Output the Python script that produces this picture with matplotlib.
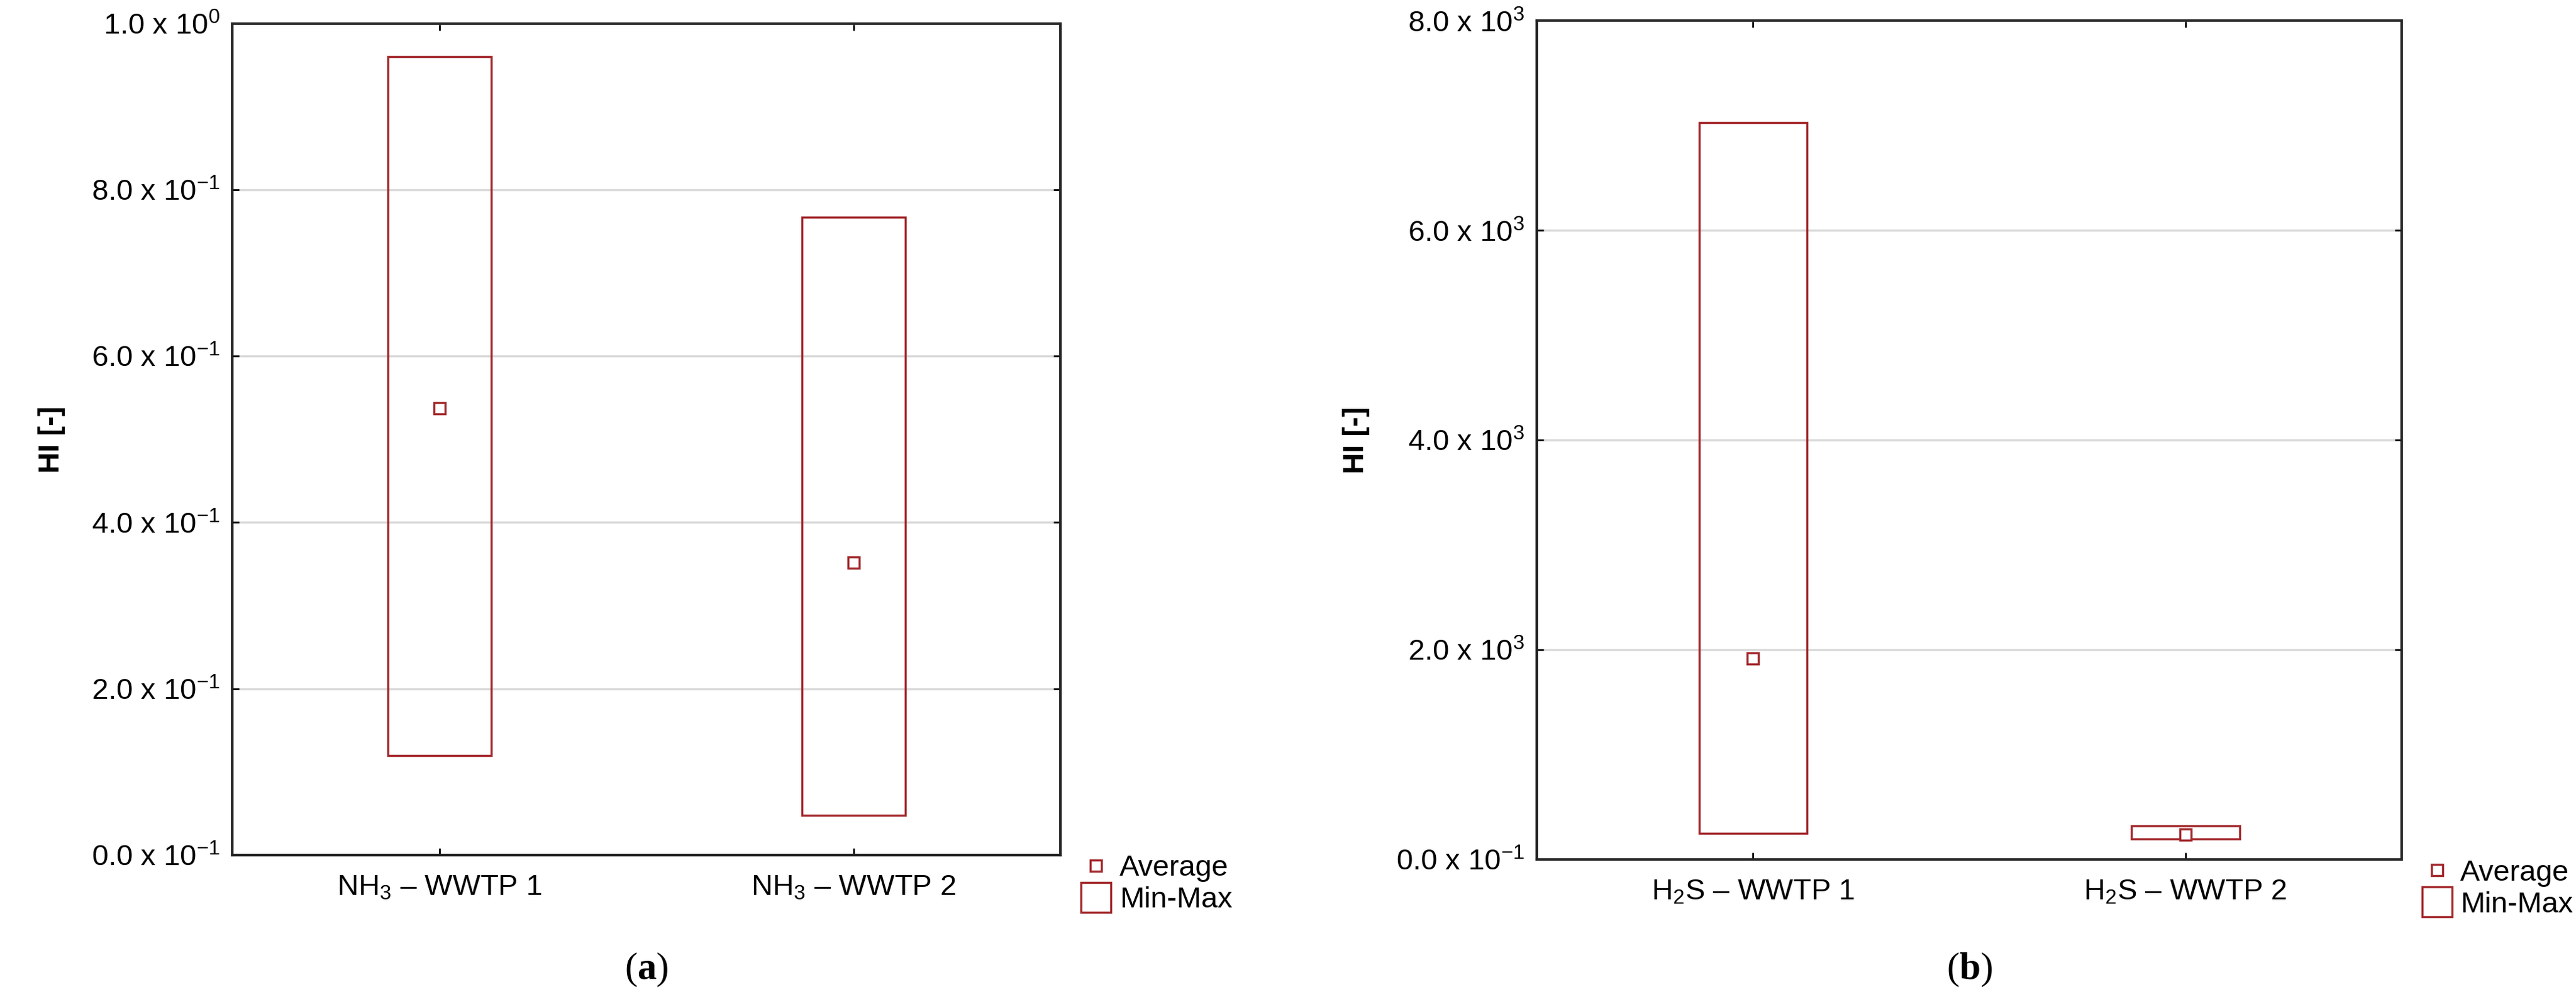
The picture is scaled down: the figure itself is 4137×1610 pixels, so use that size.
import matplotlib.pyplot as plt
from matplotlib.patches import Rectangle
from matplotlib.lines import Line2D

plt.rcParams['font.family'] = ['Liberation Sans', 'DejaVu Sans']
plt.rcParams['mathtext.fontset'] = 'custom'
plt.rcParams['mathtext.rm'] = 'Liberation Sans'
plt.rcParams['mathtext.it'] = 'Liberation Sans:italic'
plt.rcParams['mathtext.bf'] = 'Liberation Serif:bold'

# panel (a): NH3
cats_a = ["NH$_3$ \u2013 WWTP 1", "NH$_3$ \u2013 WWTP 2"]
min_a = [0.12, 0.048]
max_a = [0.96, 0.767]
avg_a = [0.537, 0.352]
yticks_a = [0.0, 0.2, 0.4, 0.6, 0.8, 1.0]
ylabels_a = [r"0.0 x 10$^{-1}$", r"2.0 x 10$^{-1}$", r"4.0 x 10$^{-1}$",
             r"6.0 x 10$^{-1}$", r"8.0 x 10$^{-1}$", r"1.0 x 10$^{0}$"]

# panel (b): H2S
cats_b = ["H$_2$S \u2013 WWTP 1", "H$_2$S \u2013 WWTP 2"]
min_b = [250, 195]
max_b = [7030, 320]
avg_b = [1920, 240]
yticks_b = [0, 2000, 4000, 6000, 8000]
ylabels_b = [r"0.0 x 10$^{-1}$", r"2.0 x 10$^{3}$", r"4.0 x 10$^{3}$",
             r"6.0 x 10$^{3}$", r"8.0 x 10$^{3}$"]

RED = "#a3282c"
FS = 34


def panel(ax, cats, mins, maxs, avgs, yticks, ylabels, ymax):
    for i in range(len(cats)):
        ax.add_patch(Rectangle((i - 0.125, mins[i]), 0.25, maxs[i] - mins[i],
                               fill=False, edgecolor=RED, lw=2.5, zorder=3))
    ax.plot(range(len(cats)), avgs, ls="none", marker="s", ms=13, mfc="white",
            mec=RED, mew=2.5, zorder=4)
    ax.set_xlim(-0.5, 1.5)
    ax.set_ylim(0, ymax)
    ax.set_xticks(range(len(cats)))
    ax.set_xticklabels(cats, fontsize=FS)
    ax.set_yticks(yticks)
    ax.set_yticklabels(ylabels, fontsize=FS)
    ax.tick_params(direction="in", length=8, width=2, top=True, right=True, pad=14)
    ax.tick_params(axis="x", pad=22)
    ax.grid(axis="y", color="#d9d9d9", lw=2.5)
    ax.set_axisbelow(True)
    for s in ax.spines.values():
        s.set_linewidth(3)
        s.set_color("#222222")
    ax.set_ylabel("HI [-]", fontsize=FS, fontweight="bold", labelpad=30)
    handles = [Line2D([], [], ls="none", marker="s", ms=13, mfc="white", mec=RED, mew=2.5),
               Line2D([], [], ls="none", marker="s", ms=34, mfc="white", mec=RED, mew=2.5)]
    ax.legend(handles, ["Average", "Min-Max"], loc="center left", bbox_to_anchor=(1.0, -0.035),
              frameon=False, fontsize=FS, handletextpad=0.3, labelspacing=0.15,
              borderaxespad=0.3, handlelength=1.0)


fig = plt.figure(figsize=(41.37, 16.10), dpi=100)
ax1 = fig.add_axes([0.0902, 0.1466, 0.3215, 0.830])
ax2 = fig.add_axes([0.5966, 0.1422, 0.3357, 0.837])
panel(ax1, cats_a, min_a, max_a, avg_a, yticks_a, ylabels_a, 1.0)
panel(ax2, cats_b, min_b, max_b, avg_b, yticks_b, ylabels_b, 8000)
for ax, tag in [(ax1, "a"), (ax2, "b")]:
    x = ax.get_position().x0 + ax.get_position().width / 2
    fig.text(x, 0.032, "(" + r"$\mathbf{" + tag + "}$" + ")", ha="center", va="center",
             fontsize=44, family="Liberation Serif")
fig.savefig("out.png", dpi=100)
